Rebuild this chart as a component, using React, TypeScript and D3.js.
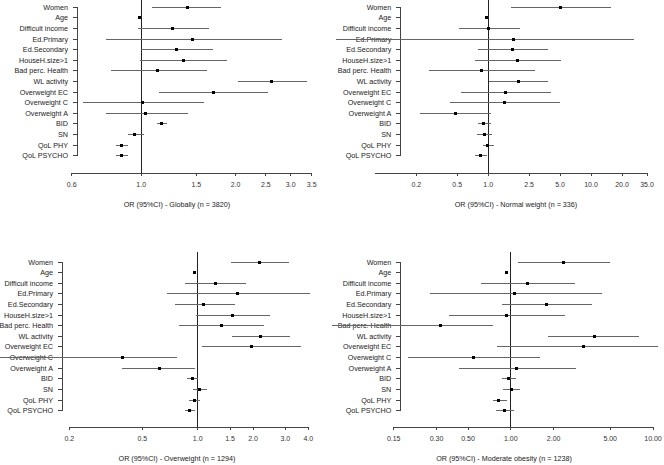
import React from "react";
import * as d3 from "d3";

const categories = [
  "Women", "Age", "Difficult income", "Ed.Primary", "Ed.Secondary", "HouseH.size>1",
  "Bad perc. Health", "WL activity", "Overweight EC", "Overweight C", "Overweight A",
  "BID", "SN", "QoL PHY", "QoL PSYCHO",
];

// Globally (n = 3820)
const globalOR = [1.40, 0.985, 1.26, 1.46, 1.30, 1.36, 1.13, 2.60, 1.70, 1.01, 1.035, 1.16, 0.955, 0.868, 0.866];
const globalLo = [1.08, 0.98, 0.98, 0.77, 1.0, 0.99, 0.80, 2.03, 1.14, 0.65, 0.77, 1.12, 0.91, 0.83, 0.83];
const globalHi = [1.80, 0.99, 1.64, 2.82, 1.69, 1.88, 1.62, 3.38, 2.53, 1.59, 1.41, 1.21, 1.02, 0.905, 0.905];
const globalTicks = [0.6, 1.0, 1.5, 2.0, 2.5, 3.0, 3.5];

// Normal weight (n = 336)
const normalOR = [5.05, 0.97, 1.016, 1.76, 1.73, 1.93, 0.87, 1.97, 1.46, 1.44, 0.478, 0.91, 0.93, 0.99, 0.85];
const normalLo = [1.67, 0.96, 0.52, 0.033, 0.79, 0.75, 0.265, 1.02, 0.54, 0.43, 0.218, 0.79, 0.78, 0.89, 0.75];
const normalHi = [15.6, 0.99, 2.03, 26.0, 3.83, 5.05, 2.84, 3.78, 4.04, 4.97, 1.055, 1.055, 1.09, 1.135, 0.97];
const normalTicks = [0.2, 0.5, 1.0, 2.5, 5.0, 10.0, 20.0, 35.0];

// Overweight (n = 1294)
const overOR = [2.16, 0.955, 1.25, 1.64, 1.08, 1.54, 1.34, 2.20, 1.97, 0.388, 0.617, 0.936, 1.025, 0.955, 0.897];
const overLo = [1.52, 0.94, 0.85, 0.68, 0.75, 0.98, 0.79, 1.54, 1.06, 0.084, 0.388, 0.875, 0.947, 0.897, 0.853];
const overHi = [3.15, 0.97, 1.84, 4.09, 1.59, 2.46, 2.29, 3.17, 3.67, 0.776, 0.966, 1.0, 1.12, 1.03, 0.963];
const overTicks = [0.2, 0.5, 1.0, 1.5, 2.0, 3.0, 4.0];

// Moderate obesity (n = 1238)
const obeseOR = [2.36, 0.937, 1.32, 1.06, 1.77, 0.927, 0.318, 3.86, 3.23, 0.55, 1.09, 0.97, 1.01, 0.823, 0.897];
const obeseLo = [1.13, 0.92, 0.618, 0.268, 0.86, 0.37, 0.055, 1.84, 0.80, 0.19, 0.43, 0.864, 0.878, 0.75, 0.788];
const obeseHi = [5.0, 0.96, 2.82, 4.35, 3.72, 2.39, 0.75, 8.0, 10.8, 1.60, 2.87, 1.09, 1.16, 0.937, 1.045];
const obeseTicks = [0.15, 0.30, 0.50, 1.00, 2.00, 5.00, 10.00];

type PanelSpec = {
  title: string;
  or: number[];
  lo: number[];
  hi: number[];
  ticks: number[];
  fmt: (v: number) => string;
  domain: [number, number];
  xRange: [number, number];
  axisStart: number;
  yRange: [number, number];
  yAxisX: number;
  axisY: number;
  refTop: number;
  titleX: number;
  clip: [number, number];
};

const f1 = d3.format(".1f");
const f2 = d3.format(".2f");

const panels: PanelSpec[] = [
  {
    title: "OR (95%CI) - Globally (n = 3820)",
    or: globalOR, lo: globalLo, hi: globalHi, ticks: globalTicks, fmt: f1,
    domain: [0.6, 3.5], xRange: [71.7, 311.7], axisStart: 0.6,
    yRange: [7.3, 155.7], yAxisX: 77, axisY: 173.3, refTop: 0, titleX: 177, clip: [0, 332],
  },
  {
    title: "OR (95%CI) - Normal weight (n = 336)",
    or: normalOR, lo: normalLo, hi: normalHi, ticks: normalTicks, fmt: f1,
    domain: [0.2, 35], xRange: [416.3, 647], axisStart: 0.079,
    yRange: [7.3, 155.7], yAxisX: 400.3, axisY: 173.3, refTop: 0, titleX: 516, clip: [332, 664],
  },
  {
    title: "OR (95%CI) - Overweight (n = 1294)",
    or: overOR, lo: overLo, hi: overHi, ticks: overTicks, fmt: f1,
    domain: [0.2, 4], xRange: [69.3, 308.3], axisStart: 0.2,
    yRange: [262, 410.7], yAxisX: 62, axisY: 427.3, refTop: 252, titleX: 177, clip: [0, 332],
  },
  {
    title: "OR (95%CI) - Moderate obesity (n = 1238)",
    or: obeseOR, lo: obeseLo, hi: obeseHi, ticks: obeseTicks, fmt: f2,
    domain: [0.15, 10], xRange: [393.7, 653], axisStart: 0.15,
    yRange: [262, 410.7], yAxisX: 400.3, axisY: 427.3, refTop: 252, titleX: 504, clip: [332, 664],
  },
];

const FONT = "'Liberation Sans', Arial, sans-serif";

function Panel({ p }: { p: PanelSpec }) {
  const x = d3.scaleLog().domain(p.domain).range(p.xRange);
  const y = d3.scalePoint<string>().domain(categories).range(p.yRange);
  const clamp = (v: number) => Math.max(p.clip[0], Math.min(p.clip[1], v));
  const y0 = y(categories[0])!;
  const y1 = y(categories[categories.length - 1])!;
  const xMax = p.ticks[p.ticks.length - 1];
  return (
    <g>
      {/* y axis */}
      <line x1={p.yAxisX} x2={p.yAxisX} y1={y0} y2={y1} stroke="#444" strokeWidth={1} />
      {categories.map((c) => (
        <g key={c}>
          <line x1={p.yAxisX - 4} x2={p.yAxisX} y1={y(c)} y2={y(c)} stroke="#444" strokeWidth={1} />
          <text
            x={p.yAxisX - 9}
            y={y(c)}
            dy="0.35em"
            textAnchor="end"
            fontSize={7.2}
            fontFamily={FONT}
            fill="#222"
          >
            {c}
          </text>
        </g>
      ))}
      {/* reference line */}
      <line x1={x(1)} x2={x(1)} y1={p.refTop} y2={p.axisY} stroke="#222" strokeWidth={1} />
      {/* CIs and points */}
      {categories.map((c, i) => (
        <g key={"ci" + c}>
          <line
            x1={clamp(x(p.lo[i]))}
            x2={clamp(x(p.hi[i]))}
            y1={y(c)}
            y2={y(c)}
            stroke="#666"
            strokeWidth={1}
          />
          <rect x={x(p.or[i]) - 1.5} y={y(c)! - 1.5} width={3} height={3} fill="#000" />
        </g>
      ))}
      {/* x axis */}
      <line x1={x(p.axisStart)} x2={x(xMax)} y1={p.axisY} y2={p.axisY} stroke="#444" strokeWidth={1} />
      {p.ticks.map((t) => (
        <g key={"t" + t}>
          <line x1={x(t)} x2={x(t)} y1={p.axisY} y2={p.axisY + 3} stroke="#444" strokeWidth={1} />
          <text
            x={x(t)}
            y={p.axisY + 14}
            textAnchor="middle"
            fontSize={7}
            fontFamily={FONT}
            fill="#333"
          >
            {p.fmt(t)}
          </text>
        </g>
      ))}
      <text
        x={p.titleX}
        y={p.axisY + 33.5}
        textAnchor="middle"
        fontSize={7.2}
        fontFamily={FONT}
        fill="#222"
      >
        {p.title}
      </text>
    </g>
  );
}

export default function App() {
  return (
    <svg
      width={664}
      height={465}
      style={{ position: "absolute", left: 0, top: 0, background: "#fff" }}
      shapeRendering="crispEdges"
    >
      <rect width={664} height={465} fill="#fff" />
      {panels.map((p) => (
        <Panel key={p.title} p={p} />
      ))}
    </svg>
  );
}
